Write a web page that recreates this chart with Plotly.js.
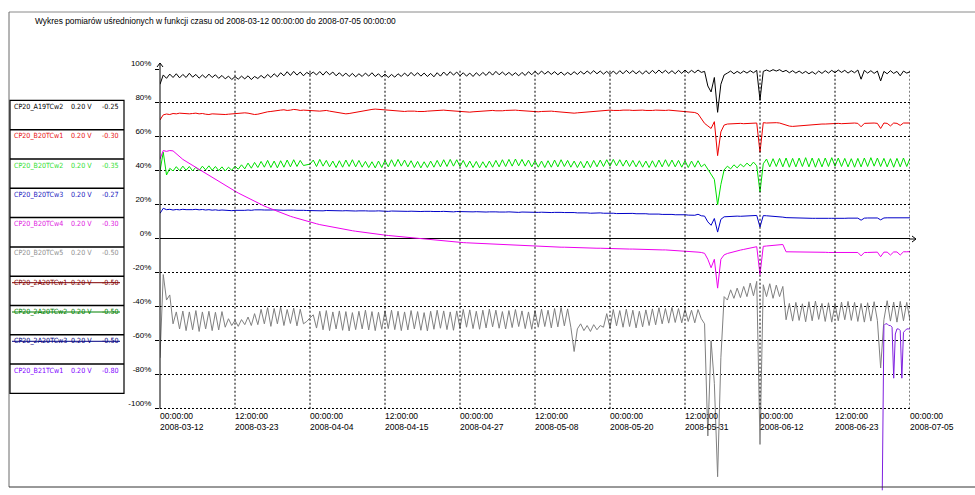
<!DOCTYPE html>
<html><head><meta charset="utf-8">
<script src="https://cdn.plot.ly/plotly-3.0.1.min.js"></script>
<style>html,body{margin:0;padding:0;background:#fff;} #chart{width:975px;height:495px;}</style>
</head><body><div id="chart"></div>
<script>
// ---------- data ----------
const chartTitle = 'Wykres pomiarów uśrednionych w funkcji czasu od 2008-03-12 00:00:00 do 2008-07-05 00:00:00';
const startTime = '2008-03-12 00:00';
const stepHours = 12;

const legendNames = ['CP20_A19TCw2','CP20_B20TCw1','CP20_B20TCw2','CP20_B20TCw3','CP20_B20TCw4','CP20_B20TCw5','CP20_2A20TCw1','CP20_2A20TCw2','CP20_2A20TCw3','CP20_B21TCw1'];
const legendScales = ['0.20 V','0.20 V','0.20 V','0.20 V','0.20 V','0.20 V','0.20 V','0.20 V','0.20 V','0.20 V'];
const legendOffsets = ['-0.25','-0.30','-0.35','-0.27','-0.30','-0.50','-0.50','-0.50','-0.50','-0.80'];
const legendColors = ['#000000','#e81010','#30e030','#2020c0','#e020e0','#909090','#800000','#008000','#000080','#8000ff'];
const legendStruck = [false,false,false,false,false,false,true,true,true,false];

const lineColors = ['#000000','#ee0000','#00e000','#0000c8','#ee00ee','#808080'];

const A19TCw2 = [
91,96.5,94.5,97,95,97.2,94.8,96.8,95,97.5,
95.2,96.8,94.6,96.5,94.8,97,95,96.6,94.5,96.2,
94.2,95.8,93.8,95.5,94,95.8,94.2,96,93.8,95.6,
94.4,96.2,94.6,96.8,95,97.2,95.4,97.8,96,98.4,
96.2,98.6,96.4,98.2,96,98,96.8,98.2,96.5,98.5,
96.4,98.6,96.6,98.2,96,97.8,95.8,97.6,95.6,97.4,
95.4,97.2,95.6,97.6,95.8,97.8,95.6,97.2,95.2,97,
95,96.8,95.2,97.2,95.6,97.6,95.8,98,96,97.8,
95.8,97.6,95.6,97.4,95.4,97.8,95.8,98.2,96.2,98.4,
96.4,98.2,96,97.8,95.8,97.6,95.6,97.8,96,98,
96.2,98.4,96.4,98.6,96.6,98.2,96.4,98,96.2,97.8,
96,98,96.2,98.4,96.6,98.6,96.8,98.8,97,98.6,
96.8,98.4,96.6,98.2,96.4,98,96.6,98.4,96.8,98.6,
97,98.8,97.2,99,97.2,98.8,97,98.6,96.8,98.8,
97,99,97.2,99.2,97.4,99,97.2,98.8,97,99,
97.2,99.2,97.4,99.4,97.6,99.2,97.4,99,97.2,99.2,
97.4,99.4,97.6,99.2,97.8,99.4,98,98.6,90,86.5,
95,74.5,91,96.5,97.6,98.8,97.2,98.6,97.4,98.8,
97.6,99,97.8,99.2,81.8,98.6,99.4,98.6,99.6,98.8,
99.6,98.4,99.2,97.8,99,97.6,98.8,97.4,98.6,97.2,
98.4,97,98.8,97.4,99,97.6,99.2,97.8,99.4,98,
99.2,97.6,99,97.8,99.4,94,99.2,97.6,99,97.4,
98.8,93,98.6,97.2,99,97.4,98.6,96,98.8,97.6,
98.4];

const B20TCw1 = [
70,73,73.5,73.2,73.8,73.6,74,73.8,73.4,73.6,
73.8,74,73.6,73.8,73.4,73.2,73.6,73.4,73.2,73,
73.2,73.4,73.6,73.8,73.6,74,74.2,74,73.6,73.2,
73.4,74,74.4,74.8,75,75.4,75.6,75.8,76,75.6,
75.8,76.2,76,75.6,75.8,75.6,75.4,75.6,75.4,75.2,
75.4,75.6,75.2,74.8,74.4,74.2,73.8,73.6,73.8,74.2,
74.6,75,75.4,75.8,76,76.2,76.4,76.2,76,75.8,
75.6,75.4,75.2,75,74.8,75,75.2,75.4,75.2,75,
74.8,75,75.2,75.4,75.6,75.8,76,75.8,75.6,75.4,
75.2,75,74.8,74.6,74.4,74.6,74.8,75,75.2,75.4,
75.6,75.8,75.6,75.4,75.2,75.4,75.6,75.8,76,75.8,
75.6,75.4,75.2,75,74.8,74.6,74.8,75,75.2,75.4,
75.2,75,74.8,74.6,74.4,74.2,74.4,74,74.2,74.4,
74.6,74.8,75,75.2,75.4,75.6,75.8,76,75.8,75.6,
75.4,75.6,75.8,76,75.8,75.6,75.8,76,75.8,75.6,
75.4,75.6,75.8,75.6,75.4,75.6,75.8,75.6,75.4,75.2,
75.4,75.2,75,74.8,74.4,73.6,70.5,68,66.5,65,
69,49,63,67,67.6,67.8,67.6,67.8,68,67.8,
68,68.2,68,68.2,51,68.4,68.2,68.4,68.2,68.4,
68.2,67.6,66.8,66.4,66.2,66.4,66.6,66.8,67,67.2,
67.2,67.4,67.4,67.6,67.6,67.8,67.6,67.8,68,67.8,
68,67.8,68,68.2,68,66,68,68.2,68.4,68.2,
68,65,68.2,68,66.5,68.2,68,66.8,68.2,68.4,
68.2];

const B20TCw2 = [
40,51,37.6,41.5,40,42.5,40.2,42.8,40.4,42.6,
40,42.2,40.2,42.8,40.6,43,40.4,42.6,40.2,42.4,
40,42.2,40.4,42.8,41,43.6,41.2,44.6,41.6,45,
42,45.6,42.2,46.2,42,45.8,41.8,46,42.2,46.4,
42.4,46.6,42.6,46.2,43.2,43.6,44,46.4,42.6,46.8,
42.8,46.2,42.4,45.8,42,46,42.2,46.4,42.6,46.6,
42.4,46.2,42.2,45.6,42,45.4,41.8,45.8,42,46.2,
42.4,46.6,42.6,46.8,42.8,46.4,42.4,46,42,45.6,
41.8,45.4,42,45.8,42.2,46.2,42.4,46.6,42.6,46.8,
42.8,46.6,42.6,46.2,42.2,45.8,42,45.6,41.8,45.4,
42,45.8,42.2,46.2,42.4,46.6,42.6,46.8,42.8,47,
43,46.8,42.8,46.4,42.4,46,42.2,45.8,42,46,
42.2,46.4,42.4,46.6,42.6,46.2,42.2,45.8,42,45.6,
41.8,45.8,42,46.2,42.4,46.4,42.6,46.6,42.8,46.8,
43,46.6,42.8,46.4,42.6,46.2,42.4,46,42.2,45.8,
42,46,42.2,46.4,42.4,46.6,42.6,46.4,42.4,46.2,
42.2,46,42,45.8,42.2,46,42.4,44,41,38,
35,20,32,40.6,42.8,41.2,43.6,41.8,44,42.4,
44.6,42.8,45.2,43,27.6,44.2,47,42.4,47.2,42.6,
47.4,42.4,47.6,42.2,47.4,42.4,47.6,42.6,47.8,42.4,
47.6,42.2,47.4,42.4,47.6,42.6,47.8,42.8,47.6,42.6,
47.4,42.4,47.2,42.2,47.4,42.4,47.6,42.6,47.8,42.8,
47.6,42.6,47.4,42.4,47.2,42.2,47.4,42.4,47.6,42.6,
47.4];

const B20TCw3 = [
15,18,17.2,17.4,17,17.3,17.1,17.4,17.2,17,
17.2,17.4,17.1,17.3,17,17.2,16.9,17.1,16.8,17,
16.8,16.9,16.6,16.8,16.7,16.9,16.8,17,16.8,17.1,
16.9,17.1,17,17.2,17,17.1,16.9,17,16.8,16.9,
16.7,16.9,16.8,17,16.8,16.7,16.6,16.8,16.6,16.7,
16.5,16.7,16.6,16.8,16.6,16.7,16.5,16.6,16.4,16.6,
16.4,16.5,16.3,16.5,16.4,16.6,16.4,16.5,16.3,16.4,
16.2,16.4,16.3,16.5,16.3,16.4,16.2,16.3,16.1,16.3,
16.1,16.2,16,16.2,16.1,16.3,16.1,16.2,16,16.1,
15.9,16.1,16,16.2,16,16.1,15.9,16,15.8,16,
15.8,15.9,15.7,15.9,15.8,16,15.8,15.9,15.7,15.8,
15.6,15.8,15.7,15.9,15.7,15.8,15.6,15.7,15.5,15.7,
15.5,15.6,15.4,15.6,15.5,15.6,15.4,15.5,15.3,15.4,
15.2,15.3,15.1,15.3,15.2,15.3,15.1,15.2,15,15.1,
14.9,15,14.8,15,14.9,15,14.8,14.9,14.7,14.8,
14.6,14.7,14.5,14.6,14.4,14.5,14.3,14.4,14.2,14.3,
14.1,14.2,14,14.1,13.9,14.5,13.6,13.4,10,8,
12,4,11.5,13,13.2,13.3,13.2,13.4,13.3,13.4,
13.5,13.4,13.6,13.8,7,13.7,13.6,13.5,13.4,13.3,
13.2,12.8,12.5,12.4,12.4,12.3,12.3,12.2,12.2,12.2,
12.1,12.1,12,12,12,12.1,12.1,12,12,12.1,
12.1,12.2,12.2,12.1,12.2,11,12.2,12.3,12.3,12.2,
12.3,11.2,12.3,12.4,12.4,12.3,12.4,12.3,12.4,12.4,
12.4];

const B20TCw4 = [
47,52,51.5,52,51.8,50,48.4,46.8,45.6,44.4,
43.4,42.2,41,39.8,38.6,37.4,36.2,35,33.8,32.6,
31.4,30.3,29.2,28.1,27,26,25,24,23,22,
21.1,20.2,19.3,18.5,17.7,16.9,16.1,15.4,14.7,14,
13.3,12.7,12.1,11.5,10.9,10.4,9.9,9.4,8.9,8.4,
8,7.6,7.2,6.8,6.4,6,5.7,5.4,5.1,4.8,
4.5,4.2,3.9,3.6,3.3,3,2.8,2.6,2.4,2.2,
2,1.8,1.6,1.4,1.2,1,0.8,0.6,0.4,0.2,
0,-0.2,-0.4,-0.6,-0.8,-1,-1.2,-1.4,-1.5,-1.6,
-1.8,-1.9,-2,-2.2,-2.3,-2.4,-2.6,-2.7,-2.8,-2.9,
-3,-3.1,-3.2,-3.3,-3.4,-3.5,-3.6,-3.7,-3.8,-3.9,
-4,-4.1,-4.1,-4.2,-4.3,-4.3,-4.4,-4.5,-4.5,-4.6,
-4.7,-4.7,-4.8,-4.9,-4.9,-5,-5,-5.1,-5.2,-5.2,
-5.3,-5.3,-5.4,-5.4,-5.5,-5.5,-5.6,-5.6,-5.7,-5.7,
-5.8,-5.8,-5.9,-5.9,-6,-6,-6.1,-6.1,-6.2,-6.2,
-6.3,-6.3,-6.4,-6.4,-6.5,-6.5,-6.6,-6.6,-6.7,-6.8,
-7,-7.2,-7.4,-7.5,-7.6,-7.8,-8,-8.5,-12,-17,
-12,-29,-12,-9.4,-8.6,-8,-7.4,-7,-6.6,-6.2,
-5.8,-5.4,-5,-4.6,-21,-4.4,-4.2,-4,-3.8,-3.6,
-3.4,-3.3,-7.6,-7.6,-7.5,-7.5,-7.6,-7.6,-7.7,-7.7,
-7.8,-7.8,-7.8,-7.9,-7.9,-8,-8,-8,-7.9,-7.9,
-7.8,-7.8,-7.9,-7.9,-8,-10,-8,-8,-7.9,-7.9,
-7.8,-10.5,-7.8,-7.8,-9.5,-7.7,-7.7,-9.5,-7.6,-7.6,
-7.5];

const B20TCw5 = [
-70,-21,-36,-33,-50,-43,-53,-42.5,-54,-43,
-53.5,-42.2,-54.5,-43,-53,-42.6,-54,-43.2,-53.6,-42.8,
-52,-47,-51,-48,-51.5,-47.5,-50.5,-46,-51,-44,
-50.5,-41.5,-50,-40.5,-51.5,-41,-50,-40.2,-51,-41.6,
-49.8,-40.8,-51.2,-41.4,-50,-48.6,-46.5,-44.7,-52.5,-42.6,
-53.5,-42.2,-54,-43,-53,-42.4,-53.8,-42.8,-54.2,-43.4,
-53.4,-42.6,-53,-42,-53.6,-42.8,-54,-43.2,-53.2,-42.4,
-52.8,-42,-53.4,-42.6,-54,-43,-53.6,-42.2,-53,-42.8,
-53.8,-43.4,-54.2,-42.6,-53.2,-42,-52.6,-42.4,-53.4,-43,
-53.8,-42.4,-52.6,-41.6,-52,-41.8,-52.8,-42.6,-53.2,-42,
-52.4,-41.4,-51.8,-42,-52.6,-42.8,-53,-42.2,-52.2,-41.6,
-51.6,-42.4,-52.8,-43,-53.2,-42.2,-52,-41.4,-51.6,-42,
-52.4,-41,-51.8,-40.4,-51.2,-41.2,-52,-66.3,-53,-50,
-54,-51,-54.5,-50.5,-53.5,-51,-52,-44,-52.5,-41.6,
-51.2,-42.2,-52,-41.4,-51.6,-42,-52.4,-42.6,-51.8,-41.8,
-51,-41.2,-50.6,-40.6,-50,-41,-49.6,-40.4,-49.2,-41,
-49.4,-41.4,-48.6,-42,-49.4,-41.6,-47,-50,-116,-60,
-85,-140,-70,-34,-36,-30,-35,-29,-34.6,-28,
-34,-26,-33.5,-25,-121,-27,-34,-26.4,-35,-27.2,
-34,-28,-47.6,-38,-48.4,-37.4,-48,-38.2,-48.8,-37,
-48.2,-36.6,-47.4,-38,-48.6,-37.6,-49,-38.4,-48.2,-37.2,
-47.6,-36.8,-48,-37.4,-48.6,-38,-49,-37.6,-48.4,-37,
-48,-76,-47.6,-36.4,-48.4,-37.2,-49,-36.8,-48.2,-37.4,
-48];

const B21TCw1_start = '2008-06-30 18:00';
const B21TCw1_stepHours = 6;
const B21TCw1 = [-148,-51,-50,-50,-51,-51,-52,-82,-56,-53,-53,-54,-82,-55,-54,-53,-53,-53];

const xTickVals = ['2008-03-12 00:00','2008-03-23 12:00','2008-04-04 00:00','2008-04-15 12:00','2008-04-27 00:00','2008-05-08 12:00','2008-05-20 00:00','2008-05-31 12:00','2008-06-12 00:00','2008-06-23 12:00','2008-07-05 00:00'];
const xTickText = ['00:00:00<br>2008-03-12','12:00:00<br>2008-03-23','00:00:00<br>2008-04-04','12:00:00<br>2008-04-15','00:00:00<br>2008-04-27','12:00:00<br>2008-05-08','00:00:00<br>2008-05-20','12:00:00<br>2008-05-31','00:00:00<br>2008-06-12','12:00:00<br>2008-06-23','00:00:00<br>2008-07-05'];
const yTickVals = [100,80,60,40,20,0,-20,-40,-60,-80,-100];
const yTickText = ['100%','80%','60%','40%','20%','0%','-20%','-40%','-60%','-80%','-100%'];

// ---------- layout geometry ----------
const W = 975, H = 495;
const ML = 160, MR = 65, MT = 69, MB = 3;
const PW = W - ML - MR, PH = H - MT - MB;
const yMin = -149, yMax = 100;
const px = x => (x - ML) / PW;
const py = y => (H - MB - y) / PH;
const FONT = 'Liberation Sans, Arial, sans-serif';
const NARROW = 'Liberation Sans Narrow, Arial Narrow, DejaVu Sans Condensed, sans-serif';

const seriesData = [A19TCw2, B20TCw1, B20TCw2, B20TCw3, B20TCw4, B20TCw5];
const traces = seriesData.map((ys, k) => ({
  type: 'scatter', mode: 'lines', name: legendNames[k],
  x0: startTime, dx: stepHours * 3600 * 1000, y: ys,
  line: {color: lineColors[k], width: 1}, hoverinfo: 'skip'
}));
traces.push({
  type: 'scatter', mode: 'lines', name: legendNames[9],
  x0: B21TCw1_start, dx: B21TCw1_stepHours * 3600 * 1000, y: B21TCw1,
  line: {color: '#7f20e0', width: 1}, hoverinfo: 'skip'
});

const shapes = [];
// outer frame
shapes.push({type:'line', xref:'paper', yref:'paper', x0:px(9), x1:px(976), y0:py(12), y1:py(12), line:{color:'#8a8a8a', width:1}});
shapes.push({type:'line', xref:'paper', yref:'paper', x0:px(9), x1:px(9), y0:py(12), y1:py(487), line:{color:'#6a6a6a', width:1}});
shapes.push({type:'line', xref:'paper', yref:'paper', x0:px(9), x1:px(976), y0:py(487), y1:py(487), line:{color:'#333', width:1}});
// vertical grid lines
xTickVals.slice(1).forEach(t => shapes.push({type:'line', xref:'x', yref:'y', x0:t, x1:t, y0:-100, y1:100, line:{color:'#000', width:1, dash:'2px,2px'}}));
// y axis line + arrow
shapes.push({type:'line', xref:'paper', yref:'y', x0:0, x1:0, y0:-100, y1:100, line:{color:'#000', width:1}});
shapes.push({type:'path', xref:'paper', yref:'paper', path:`M${px(160)},${py(69)} L${px(160)},${py(63)} M${px(157)},${py(67)} L${px(160)},${py(63)} L${px(163)},${py(67)}`, line:{color:'#000', width:1}});
// x axis arrow
shapes.push({type:'path', xref:'paper', yref:'paper', path:`M${px(910)},${py(239)} L${px(916)},${py(239)} M${px(912)},${py(236)} L${px(916)},${py(239)} L${px(912)},${py(242)}`, line:{color:'#000', width:1}});

// legend box
const LB = {x0: 10, x1: 124, top: 100.4, row: 29.3};
const rowsN = legendNames.length;
shapes.push({type:'rect', xref:'paper', yref:'paper', x0:px(LB.x0), x1:px(LB.x1), y0:py(LB.top), y1:py(LB.top + rowsN*LB.row), line:{color:'#000', width:1.2}});
for (let k = 1; k < rowsN; k++) {
  const yy = LB.top + k*LB.row;
  shapes.push({type:'line', xref:'paper', yref:'paper', x0:px(LB.x0), x1:px(LB.x1), y0:py(yy), y1:py(yy), line:{color:'#000', width:1.5}});
}
const annotations = [];
const cols = [12.5, 70, 101];
legendNames.forEach((n, k) => {
  const yc = LB.top + k*LB.row + 6;
  const parts = [n, legendScales[k], legendOffsets[k]];
  parts.forEach((t, j) => annotations.push({xref:'paper', yref:'paper', x:px(cols[j]), y:py(yc), xanchor:'left', yanchor:'middle', text:t, showarrow:false, borderpad:0, font:{family:NARROW, size:7.1, color:legendColors[k]}}));
  if (legendStruck[k]) shapes.push({type:'line', xref:'paper', yref:'paper', x0:px(12), x1:px(120), y0:py(yc+0.5), y1:py(yc+0.5), line:{color:legendColors[k], width:1}});
});

const layout = {
  width: W, height: H,
  margin: {l: ML, r: MR, t: MT, b: MB, pad: 0},
  paper_bgcolor: '#fff', plot_bgcolor: '#fff',
  showlegend: false,
  title: {text: chartTitle, x: 35/W, xanchor: 'left', xref: 'container', y: 1 - 21/H, yref: 'container', yanchor: 'middle', font: {family: FONT, size: 8.4, color: '#000'}},
  xaxis: {
    type: 'date', range: [xTickVals[0], xTickVals[xTickVals.length-1]],
    tickmode: 'array', tickvals: xTickVals, ticktext: xTickText,
    showgrid: false, zeroline: false, showline: false, ticks: '',
    anchor: 'free', position: (-100 - yMin) / (yMax - yMin),
    ticklabelposition: 'outside right', ticklabelstandoff: 1,
    tickfont: {family: FONT, size: 8.5, color: '#000'}, automargin: false, fixedrange: true
  },
  yaxis: {
    range: [yMin, yMax], tickmode: 'array', tickvals: yTickVals, ticktext: yTickText,
    showgrid: true, gridcolor: '#000', gridwidth: 1, griddash: '2px,2px',
    zeroline: true, zerolinecolor: '#000', zerolinewidth: 1, showline: false,
    ticks: 'outside', ticklen: 4, tickcolor: '#000', tickwidth: 1,
    ticklabelshift: -6, ticklabelstandoff: 2,
    tickfont: {family: FONT, size: 8, color: '#000'}, automargin: false, fixedrange: true
  },
  shapes: shapes, annotations: annotations
};
Plotly.newPlot('chart', traces, layout, {staticPlot: true, displayModeBar: false});
</script>
</body></html>
